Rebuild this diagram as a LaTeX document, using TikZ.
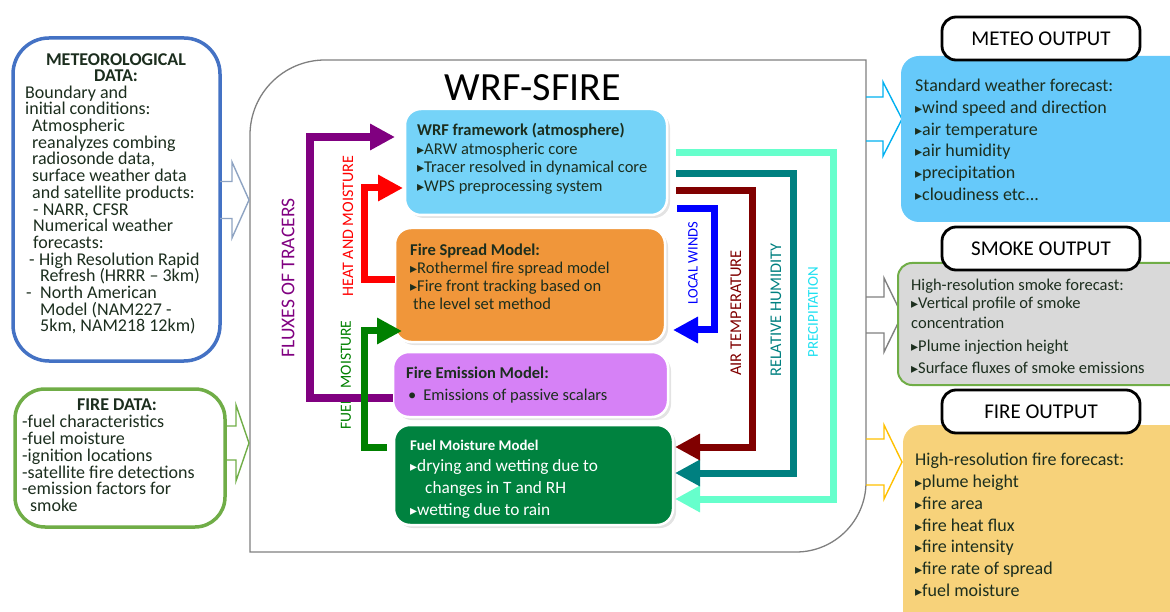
\documentclass[tikz,border=0pt]{standalone}
\usepackage{fontspec}
\setmainfont{Carlito}
\newfontfamily\dejavu{DejaVu Sans}
\usetikzlibrary{arrows.meta,calc,shadows}
\definecolor{txt}{HTML}{1C2E1E}
\definecolor{metblue}{HTML}{4472C4}
\definecolor{firegreen}{HTML}{70AD47}
\definecolor{wrfblue}{HTML}{75D3F8}
\definecolor{spreadorange}{HTML}{F0963A}
\definecolor{emisviolet}{HTML}{D681F6}
\definecolor{fuelgreen}{HTML}{00823F}
\definecolor{outblue}{HTML}{66C9FA}
\definecolor{outgrey}{HTML}{D9D9D9}
\definecolor{outyellow}{HTML}{F7D27A}
\definecolor{arrblue}{HTML}{00B0F0}
\definecolor{arrgrey}{HTML}{808080}
\definecolor{arryellow}{HTML}{FFC000}
\definecolor{inarrow}{HTML}{8EA3C2}
\definecolor{fluxpurple}{HTML}{800080}
\definecolor{heatred}{HTML}{FF0000}
\definecolor{fmgreen}{HTML}{008000}
\definecolor{windblue}{HTML}{0000FF}
\definecolor{tempred}{HTML}{800000}
\definecolor{rhteal}{HTML}{008080}
\definecolor{precaqua}{HTML}{66FFCC}
\definecolor{preclabel}{HTML}{1EE0F0}
\definecolor{frame}{HTML}{7F7F7F}
\newcommand{\tri}{{\dejavu\fontsize{14}{14}\selectfont ▸}}
\newcommand{\fs}[2]{\fontsize{#1}{#2}\selectfont}
\newcommand{\st}{\rule{0pt}{0.8em}}
\newcommand{\blockarrow}[6]{%
  \draw[#1] ($(#2)+(0,-#5)$) -- ($(#2)+(#3,-#5)$) -- ($(#2)+(#3,-#6)$) -- ($(#2)+(#4,0)$) -- ($(#2)+(#3,#6)$) -- ($(#2)+(#3,#5)$) -- ($(#2)+(0,#5)$);}
\tikzset{
  area/.style={inner sep=0pt, outer sep=0pt, anchor=north west},
  inbox/.style={area, line width=3.5pt, rounded corners=36pt, fill=white},
  model/.style={area, draw=white, line width=2.5pt, rounded corners=16pt,
    drop shadow={shadow xshift=3pt, shadow yshift=-3pt, opacity=0.22}},
  outbox/.style={area, rounded corners=18pt},
  header/.style={area, draw=black, line width=2.8pt, fill=white, rounded corners=14pt,
    minimum width=198pt, minimum height=43pt},
  headtext/.style={inner sep=0pt, font=\fs{21}{24}, text=black},
  body/.style={inner sep=0pt, anchor=north west, align=left, text=txt},
  line/.style={inner sep=0pt, anchor=base west, text=txt},
  flow/.style={line width=7pt, -{Triangle[length=25pt,width=25pt]}},
  vlabel/.style={inner sep=0pt, rotate=90},
  hollow/.style={line width=1.4pt, line join=miter},
}
\begin{document}
\begin{tikzpicture}[x=1pt,y=-1pt]
\useasboundingbox (0,0) rectangle (1170,612);

% ---------- input boxes ----------
\node[inbox, draw=metblue, minimum width=207pt, minimum height=323pt] (met) at (13,38) {};
\node[inner sep=0pt, font=\fs{18}{16.5}\bfseries, text=txt, align=center] (mett) at (116,67.5) {METEOROLOGICAL\\DATA:};
\node[body, font=\fs{18}{16.7}] (metb) at (25,83.5) {\st Boundary and\\
initial conditions:\\
\hspace*{7pt}Atmospheric\\
\hspace*{7pt}reanalyzes combing\\
\hspace*{7pt}radiosonde data,\\
\hspace*{7pt}surface weather data\\
\hspace*{7pt}and satellite products:\\
\hspace*{8pt}- NARR, CFSR\\
\hspace*{8pt}Numerical weather\\
\hspace*{8pt}forecasts:\\
\hspace*{4pt}\makebox[10pt][l]{-}High Resolution Rapid\\
\hspace*{15pt}Refresh (HRRR -- 3km)\\
\hspace*{1pt}\makebox[14pt][l]{-}North American\\
\hspace*{15pt}Model (NAM227 -\\
\hspace*{15pt}5km, NAM218 12km)};

\node[inbox, draw=firegreen, minimum width=210pt, minimum height=138pt, rounded corners=30pt] (fire) at (15,389) {};
\node[inner sep=0pt, font=\fs{18}{17}\bfseries, text=txt] (firet) at (117,405) {FIRE DATA:};
\node[body, font=\fs{18}{16.8}] (fireb) at (22,413) {\st -fuel characteristics\\
-fuel moisture\\
-ignition locations\\
-satellite fire detections\\
-emission factors for\\
\hspace*{8pt}smoke};

% ---------- WRF-SFIRE frame ----------
\node[area, minimum width=616pt, minimum height=492pt] (sfire) at (250,60) {};
\draw[frame, line width=1.3pt] (sfire.south west) [rounded corners=75pt] -- (sfire.north west)
  [sharp corners] -- (sfire.north east) [rounded corners=70pt] -- (sfire.south east) [sharp corners] -- cycle;
\node[inner sep=0pt, font=\fs{40}{44}, text=black] (title) at (533,88) {WRF-SFIRE};

% ---------- hollow arrows ----------
\coordinate (a1) at (met.east |- 0,200);
\blockarrow{hollow, draw=inarrow}{a1}{12}{29}{18.5}{38}
\coordinate (a2) at (fire.east |- 0,443);
\blockarrow{hollow, draw=firegreen}{a2}{11}{24}{17}{38}
\coordinate (a3) at (sfire.east |- 0,119);
\blockarrow{hollow, draw=arrblue}{a3}{17}{36}{22}{37}
\coordinate (a4) at (sfire.east |- 0,315);
\blockarrow{hollow, draw=arrgrey}{a4}{18}{36}{18}{37}
\coordinate (a5) at (sfire.east |- 0,462);
\blockarrow{hollow, draw=arryellow}{a5}{18}{36}{23}{37}

% ---------- models ----------
\node[model, fill=wrfblue, minimum width=262pt, minimum height=106pt] (wrf) at (405,109) {};
\node[body, font=\fs{16.5}{18.5}] (wrft) at (417,122.5) {\st\textbf{WRF framework (atmosphere)}\\
\tri ARW atmospheric core\\
\tri Tracer resolved in dynamical core\\
\tri WPS preprocessing system};

\node[model, fill=spreadorange, minimum width=270pt, minimum height=114pt] (spread) at (395,228) {};
\node[body, font=\fs{16.5}{18}] (spreadt) at (410,242.5) {\st\textbf{Fire Spread Model:}\\
\tri Rothermel fire spread model\\
\tri Fire front tracking based on\\
\hspace*{3pt}the level set method};

\node[model, fill=emisviolet, minimum width=275pt, minimum height=65pt] (emis) at (393,352) {};
\node[line, font=\fs{16.5}{18}\bfseries] (emist) at (406,378) {Fire Emission Model:};
\node[line, font=\fs{16.5}{18}] (emisb) at (408,400) {\textbullet\hspace{7pt}Emissions of passive scalars};

\node[model, fill=fuelgreen, minimum width=279pt, minimum height=100pt] (fuel) at (394,425) {};
\node[line, font=\fs{14.8}{16}\bfseries, text=white] (fuelt) at (410,450.5) {Fuel Moisture Model};
\node[body, font=\fs{17.3}{20}, text=white] (fuelb) at (410,457.5) {\st\tri drying and wetting due to\\[2pt]
\hspace*{15pt}changes in T and RH\\[2pt]
\tri wetting due to rain};

% ---------- left flows ----------
\node[vlabel, font=\fs{19.5}{20}, text=fluxpurple] (lflux) at (288,278) {FLUXES OF TRACERS};
\node[vlabel, font=\fs{16}{18}, text=heatred] (lheat) at (348,226) {HEAT AND MOISTURE};
\node[vlabel, font=\fs{15.5}{18}, text=fmgreen] (lfm) at (346,375) {FUEL\hspace{10pt}MOISTURE};

\draw[flow, draw=fluxpurple, line width=8pt] ([yshift=-13.5pt]emis.west) -- ++(-83,0) |- ([xshift=-10pt,yshift=25pt]wrf.west);
\draw[flow, draw=heatred] ([yshift=5pt]spread.west) -- ++(-31,0) |- ([xshift=-2pt,yshift=-26pt]wrf.west);
\draw[flow, draw=fmgreen] ([xshift=-7pt,yshift=28pt]fuel.west) -- ++(-23,0) |- ([xshift=7pt,yshift=-46pt]spread.west);

% ---------- right flows ----------
\draw[flow, draw=precaqua] ([xshift=9pt,yshift=9pt]wrf.east) -- ++(157,0) |- ([xshift=2pt,yshift=-24pt]fuel.east);
\draw[flow, draw=rhteal] ([xshift=9pt,yshift=-12pt]wrf.east) -- ++(117,0) |- ([xshift=2pt,yshift=2pt]fuel.east);
\draw[flow, draw=tempred] ([xshift=9pt,yshift=-29pt]wrf.east) -- ++(76,0) |- ([xshift=2pt,yshift=28pt]fuel.east);
\draw[flow, draw=windblue] ([xshift=10pt,yshift=-47pt]wrf.east) -- ++(37,0) |- ([xshift=8pt,yshift=-45pt]spread.east);

\node[vlabel, font=\fs{14.5}{16}, text=windblue] (lwind) at (693,263) {LOCAL WINDS};
\node[vlabel, font=\fs{16.4}{18}, text=tempred] (ltemp) at (736,313) {AIR TEMPERATURE};
\node[vlabel, font=\fs{16.3}{18}, text=rhteal] (lrh) at (776,310) {RELATIVE HUMIDITY};
\node[vlabel, font=\fs{15}{18}, text=preclabel] (lprec) at (813,312) {PRECIPITATION};

% ---------- outputs ----------
\node[outbox, fill=outblue, minimum width=300pt, minimum height=166pt] (meto) at (901,56) {};
\node[body, font=\fs{18}{21.8}] (metot) at (915,77) {\st Standard weather forecast:\\
\tri wind speed and direction\\
\tri air temperature\\
\tri air humidity\\
\tri precipitation\\
\tri cloudiness etc...};
\node[header] (meth) at (942,17) {};
\node[headtext] at (meth.center) {METEO OUTPUT};

\node[outbox, fill=outgrey, draw=firegreen, line width=2pt, rounded corners=14pt, minimum width=300pt, minimum height=122pt] (smo) at (898,263) {};
\node[body, font=\fs{16.5}{18}] (smot) at (911,276.75) {\st High-resolution smoke forecast:\\
\tri Vertical profile of smoke\\[2pt]
concentration\\[5pt]
\tri Plume injection height\\[4pt]
\tri Surface fluxes of smoke emissions};
\node[header] (smh) at (942,227) {};
\node[headtext] at (smh.center) {SMOKE OUTPUT};

\node[outbox, fill=outyellow, minimum width=300pt, minimum height=220pt] (fio) at (903,425) {};
\node[body, font=\fs{18}{21.8}] (fiot) at (915,451) {\st High-resolution fire forecast:\\
\tri plume height\\
\tri fire area\\
\tri fire heat flux\\
\tri fire intensity\\
\tri fire rate of spread\\
\tri fuel moisture};
\node[header] (fih) at (942,390) {};
\node[headtext] at (fih.center) {FIRE OUTPUT};
\end{tikzpicture}
\end{document}
